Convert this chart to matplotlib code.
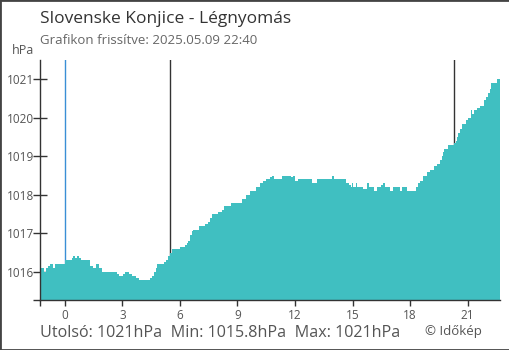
import matplotlib
matplotlib.use("Agg")
import matplotlib.pyplot as plt
from matplotlib.patches import Rectangle

plt.rcParams['font.family'] = ['Open Sans', 'DejaVu Sans']

# breakpoints of the pressure curve (hours relative to midnight, hPa)
hours = [-1.30, -1.10, -0.99, -0.89, -0.78, -0.63, -0.52, 0.00, 0.37, 0.42,
         0.52, 0.63, 0.73, 0.83, 1.30, 1.46, 1.62, 1.77, 1.93, 2.71,
         2.82, 3.03, 3.13, 3.34, 3.50, 3.70, 3.86, 4.43, 4.54, 4.64,
         4.75, 4.80, 5.16, 5.27, 5.37, 5.48, 5.58, 6.00, 6.26, 6.36,
         6.42, 6.52, 6.62, 6.68, 6.99, 7.30, 7.46, 7.56, 7.67, 7.98,
         8.19, 8.29, 8.66, 9.23, 9.44, 9.65, 9.96, 10.17, 10.33, 10.49,
         10.70, 10.80, 10.90, 11.32, 11.79, 11.89, 12.00, 12.15, 12.88, 13.15,
         13.93, 14.03, 14.66, 14.82, 14.92, 14.97, 15.02, 15.18, 15.23, 15.55,
         15.75, 15.86, 16.12, 16.28, 16.49, 16.59, 16.69, 16.95, 17.11, 17.48,
         17.58, 17.84, 18.31, 18.41, 18.52, 18.68, 18.89, 19.04, 19.25, 19.41,
         19.56, 19.67, 19.72, 19.77, 19.98, 20.29, 20.40, 20.45, 20.50, 20.61,
         20.71, 20.92, 21.02, 21.18, 21.23, 21.33, 21.49, 21.64, 21.85, 21.96,
         22.06, 22.17, 22.22, 22.54, 22.67]
pressure = [1016.1, 1016.0, 1016.1, 1016.15, 1016.2, 1016.1, 1016.2, 1016.3, 1016.35, 1016.4,
            1016.35, 1016.4, 1016.35, 1016.3, 1016.15, 1016.1, 1016.2, 1016.1, 1016.0, 1015.95,
            1015.9, 1015.95, 1016.0, 1015.95, 1015.9, 1015.85, 1015.8, 1015.85, 1015.9, 1016.0,
            1016.1, 1016.2, 1016.25, 1016.3, 1016.4, 1016.5, 1016.6, 1016.65, 1016.7, 1016.75,
            1016.8, 1016.95, 1017.05, 1017.1, 1017.2, 1017.25, 1017.3, 1017.4, 1017.5, 1017.55,
            1017.6, 1017.7, 1017.8, 1017.9, 1018.0, 1018.1, 1018.2, 1018.3, 1018.35, 1018.4,
            1018.45, 1018.5, 1018.4, 1018.5, 1018.45, 1018.5, 1018.35, 1018.4, 1018.3, 1018.4,
            1018.5, 1018.4, 1018.3, 1018.25, 1018.2, 1018.3, 1018.2, 1018.3, 1018.2, 1018.15,
            1018.3, 1018.2, 1018.1, 1018.2, 1018.25, 1018.3, 1018.2, 1018.1, 1018.2, 1018.1,
            1018.2, 1018.1, 1018.2, 1018.3, 1018.35, 1018.5, 1018.6, 1018.65, 1018.75, 1018.8,
            1018.9, 1019.0, 1019.1, 1019.2, 1019.3, 1019.35, 1019.4, 1019.5, 1019.6, 1019.7,
            1019.85, 1019.95, 1020.0, 1020.2, 1020.1, 1020.2, 1020.25, 1020.3, 1020.45, 1020.55,
            1020.65, 1020.75, 1020.9, 1021.0, 1021.0]

x_ticks = [0, 3, 6, 9, 12, 15, 18, 21]
y_ticks = [1016, 1017, 1018, 1019, 1020, 1021]
midnight = 0
sun_lines = [5.5, 20.3]

title = 'Slovenske Konjice - Légnyomás'
subtitle = 'Grafikon frissítve: 2025.05.09 22:40'
footer = 'Utolsó: 1021hPa  Min: 1015.8hPa  Max: 1021hPa'

fig = plt.figure(figsize=(5.1, 3.5), dpi=100)
ax = fig.add_axes([40 / 510, 50 / 350, 460 / 510, 240 / 350])
ymin, ymax = 1015.27, 1021.5
ax.set_xlim(-1.30, 22.69)
ax.set_ylim(ymin, ymax)

# day markers behind the fill
ax.axvline(midnight, color='#3a8fd6', lw=1, zorder=1)
for h in sun_lines:
    ax.axvline(h, color='#333333', lw=1, zorder=1)

ax.fill_between(hours, pressure, ymin, step='post', color='#40bfc1', lw=0, zorder=2)

for s in ['top', 'right']:
    ax.spines[s].set_visible(False)
for s in ['left', 'bottom']:
    ax.spines[s].set_color('#333333')
    ax.spines[s].set_linewidth(1)
    ax.spines[s].set_zorder(3)

ax.set_xticks(x_ticks)
ax.set_yticks(y_ticks)
ax.tick_params(axis='x', direction='out', length=4.5, width=1, color='#333333',
               labelsize=8.5, labelcolor='#555555', pad=2)
ax.tick_params(axis='y', direction='inout', length=10, width=1, color='#333333',
               labelsize=8.5, labelcolor='#555555', pad=-1)
ax.get_xticklines()[0].set_color('#3a8fd6')
# outer ticks at the axis ends
ax.set_xticks([-1.30], minor=True)
ax.set_yticks([ymin], minor=True)
ax.tick_params(axis='x', which='minor', direction='out', length=4.5, width=1, color='#333333')
ax.tick_params(axis='y', which='minor', direction='out', length=5, width=1, color='#333333')

fig.text(40 / 510, 1 - 19 / 350, title, fontsize=12.5, color='#333333', va='center', ha='left')
fig.text(40 / 510, 1 - 41 / 350, subtitle, fontsize=9.5, color='#666666', va='center', ha='left')
fig.text(12 / 510, 1 - 50 / 350, 'hPa', fontsize=9, color='#555555', va='center', ha='left')
fig.text(40 / 510, 1 - 333 / 350, footer, fontsize=11.6, color='#555555', va='center', ha='left')
fig.text(425 / 510, 1 - 331 / 350, '© Időkép', fontsize=9.5, color='#555555', va='center', ha='left')

fig.patches.append(Rectangle((0, 0), 1, 1, transform=fig.transFigure, fill=False,
                             edgecolor='#444444', lw=2))

fig.savefig('out.png', dpi=100)
